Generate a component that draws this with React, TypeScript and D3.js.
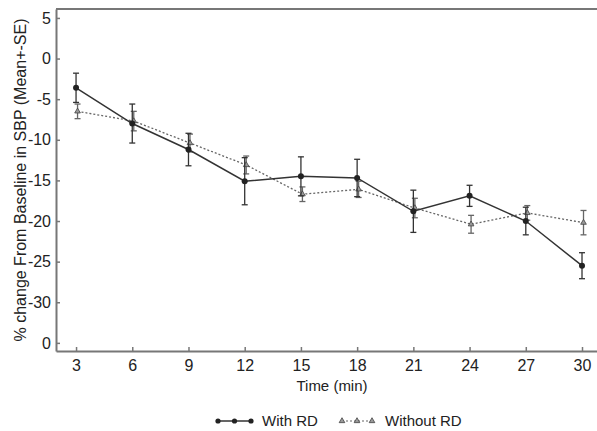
import React, { useEffect, useRef } from "react";
import * as d3 from "d3";

const times = [3, 6, 9, 12, 15, 18, 21, 24, 27, 30];
const withRD = [-3.6, -8.0, -11.2, -15.1, -14.5, -14.7, -18.8, -16.9, -20.0, -25.5];
const withRDse = [1.8, 2.4, 2.0, 2.9, 2.4, 2.3, 2.6, 1.3, 1.7, 1.6];
const withoutRD = [-6.5, -7.7, -10.4, -13.1, -16.7, -16.1, -18.4, -20.4, -19.0, -20.2];
const withoutRDse = [0.9, 1.2, 1.1, 1.1, 0.9, 1.0, 1.2, 1.1, 0.9, 1.5];
const yTicks = [5, 0, -5, -10, -15, -20, -25, -30, -35];
const yTickLabels = ["5", "0", "-5", "-10", "-15", "-20", "-25", "-30", "0"];

const App = () => {
  const svgRef = useRef(null);
  const width = 597;
  const height = 431;
  const margin = { top: 9, right: 0, bottom: 80, left: 56 };

  useEffect(() => {
    const svg = d3.select(svgRef.current);
    svg.selectAll("*").remove();

    const x = d3
      .scaleLinear()
      .domain([1.93, 30.8])
      .range([margin.left, width - margin.right]);

    const y = d3
      .scaleLinear()
      .domain([-36.0, 6.1])
      .range([height - margin.bottom, margin.top]);

    const axisColor = "#777";
    const font = "Liberation Sans, Arial, sans-serif";

    // frame top line
    svg
      .append("line")
      .attr("x1", margin.left)
      .attr("x2", width)
      .attr("y1", margin.top)
      .attr("y2", margin.top)
      .attr("stroke", axisColor)
      .attr("stroke-width", 2);

    const xAxis = svg
      .append("g")
      .attr("transform", `translate(0,${height - margin.bottom})`)
      .call(d3.axisBottom(x).tickValues(times).tickSizeInner(-4).tickSizeOuter(0).tickPadding(9));
    xAxis.select(".domain").attr("stroke", axisColor).attr("stroke-width", 2);
    xAxis.selectAll(".tick line").attr("stroke", axisColor).attr("stroke-width", 1.5);
    xAxis
      .selectAll(".tick text")
      .attr("fill", "#222")
      .attr("font-family", font)
      .attr("font-size", 16);

    const yAxis = svg
      .append("g")
      .attr("transform", `translate(${margin.left},0)`)
      .call(
        d3
          .axisLeft(y)
          .tickValues(yTicks)
          .tickFormat((d, i) => yTickLabels[i])
          .tickSizeInner(-4)
          .tickSizeOuter(0)
          .tickPadding(5)
      );
    yAxis.select(".domain").attr("stroke", axisColor).attr("stroke-width", 2);
    yAxis.selectAll(".tick line").attr("stroke", axisColor).attr("stroke-width", 1.5);
    yAxis
      .selectAll(".tick text")
      .attr("fill", "#222")
      .attr("font-family", font)
      .attr("font-size", 16);

    svg
      .append("text")
      .attr("transform", `translate(26,${(margin.top + height - margin.bottom) / 2}) rotate(-90)`)
      .attr("text-anchor", "middle")
      .attr("font-family", font)
      .attr("font-size", 16)
      .attr("fill", "#222")
      .text("% change From Baseline in SBP (Mean+-SE)");

    svg
      .append("text")
      .attr("x", 332)
      .attr("y", 391)
      .attr("text-anchor", "middle")
      .attr("font-family", font)
      .attr("font-size", 15)
      .attr("fill", "#222")
      .text("Time (min)");

    const series = [
      { vals: withoutRD, se: withoutRDse, color: "#666", dash: "2,2", marker: "tri", dx: 1.5 },
      { vals: withRD, se: withRDse, color: "#333", dash: null, marker: "circle", dx: 0 },
    ];

    const tri = d3.symbol().type(d3.symbolTriangle).size(14);

    series.forEach((s) => {
      const g = svg.append("g");
      const line = d3
        .line()
        .x((d, i) => x(times[i]) + s.dx)
        .y((d) => y(d));
      g.append("path")
        .datum(s.vals)
        .attr("d", line)
        .attr("fill", "none")
        .attr("stroke", s.color)
        .attr("stroke-width", s.dash ? 1.3 : 1.5)
        .attr("stroke-dasharray", s.dash);

      s.vals.forEach((v, i) => {
        const cx = x(times[i]) + s.dx;
        const y1 = y(v + s.se[i]);
        const y2 = y(v - s.se[i]);
        g.append("line")
          .attr("x1", cx).attr("x2", cx).attr("y1", y1).attr("y2", y2)
          .attr("stroke", s.color).attr("stroke-width", 1.3);
        [y1, y2].forEach((yy) =>
          g.append("line")
            .attr("x1", cx - 3).attr("x2", cx + 3).attr("y1", yy).attr("y2", yy)
            .attr("stroke", s.color).attr("stroke-width", 1.3)
        );
        if (s.marker === "circle") {
          g.append("circle").attr("cx", cx).attr("cy", y(v)).attr("r", 3).attr("fill", "#222");
        } else {
          g.append("path")
            .attr("d", tri)
            .attr("transform", `translate(${cx},${y(v)})`)
            .attr("fill", "#999")
            .attr("stroke", "#444")
            .attr("stroke-width", 0.8);
        }
      });
    });

    // legend
    const ly = 421;
    const leg = svg.append("g");
    leg.append("line").attr("x1", 218).attr("x2", 251).attr("y1", ly).attr("y2", ly)
      .attr("stroke", "#333").attr("stroke-width", 1.5);
    [218, 234.5, 251].forEach((cx) =>
      leg.append("circle").attr("cx", cx).attr("cy", ly).attr("r", 2.6).attr("fill", "#222")
    );
    leg.append("text").attr("x", 262).attr("y", ly + 5).attr("font-family", font)
      .attr("font-size", 15).attr("fill", "#222").text("With RD");

    leg.append("line").attr("x1", 342).attr("x2", 372).attr("y1", ly).attr("y2", ly)
      .attr("stroke", "#666").attr("stroke-width", 1.2).attr("stroke-dasharray", "2,2");
    [342, 357, 372].forEach((cx) =>
      leg.append("path").attr("d", tri).attr("transform", `translate(${cx},${ly})`)
        .attr("fill", "#999").attr("stroke", "#444").attr("stroke-width", 0.8)
    );
    leg.append("text").attr("x", 385).attr("y", ly + 5).attr("font-family", font)
      .attr("font-size", 15).attr("fill", "#222").text("Without RD");
  }, []);

  return (
    <svg
      ref={svgRef}
      width={width}
      height={height}
      style={{ position: "absolute", left: 0, top: 0, background: "#fff" }}
    />
  );
};

export default App;
